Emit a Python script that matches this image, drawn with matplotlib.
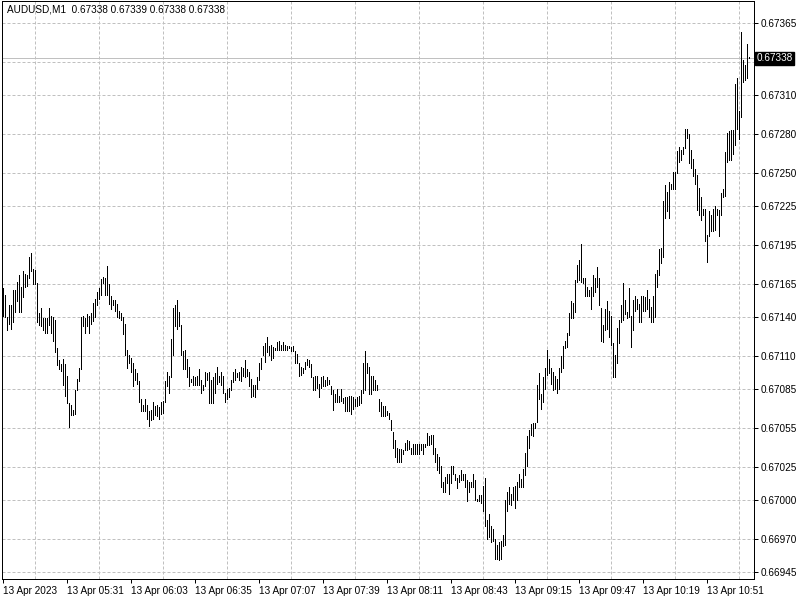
import numpy as np
import matplotlib
matplotlib.use("Agg")
import matplotlib.pyplot as plt
import matplotlib.transforms as mtransforms

plt.rcParams['font.family'] = ['Liberation Sans', 'DejaVu Sans']

# AUDUSD M1 bars, high / low in points (1 point = 0.00001)
high_pts = [
    67162, 67157, 67140, 67149, 67149, 67161, 67161, 67167, 67172, 67163, 67175, 67173, 67172, 67186, 67189,
    67177, 67176, 67166, 67143, 67147, 67139, 67139, 67139, 67147, 67141, 67140, 67138, 67116, 67107, 67104,
    67108, 67104, 67095, 67074, 67073, 67069, 67084, 67093, 67101, 67140, 67141, 67139, 67142, 67141, 67143,
    67151, 67154, 67159, 67162, 67169, 67171, 67170, 67179, 67165, 67156, 67153, 67153, 67150, 67145, 67143,
    67140, 67135, 67115, 67111, 67109, 67105, 67100, 67097, 67091, 67077, 67073, 67077, 67073, 67068,
    67069, 67075, 67072, 67073, 67071, 67075, 67076, 67091, 67098, 67095, 67123, 67147, 67149, 67153, 67144,
    67134, 67114, 67115, 67108, 67102, 67093, 67095, 67094, 67095, 67100, 67092, 67088, 67098, 67097, 67098,
    67092, 67094, 67097, 67102, 67095, 67098, 67095, 67082, 67085, 67086, 67092, 67098, 67100, 67097, 67098,
    67102, 67101, 67107, 67100, 67098, 67093, 67088, 67088, 67094, 67105, 67109, 67118, 67120, 67125, 67118,
    67119, 67117, 67116, 67121, 67122, 67119, 67121, 67119, 67118, 67118, 67117, 67118, 67114, 67112, 67105,
    67102, 67101, 67106, 67108, 67107, 67104, 67094, 67095, 67095, 67089, 67094, 67095, 67092, 67094, 67092,
    67087, 67084, 67081, 67085, 67080, 67085, 67078, 67079, 67079, 67080, 67080, 67079, 67077, 67079, 67080,
    67084, 67105, 67114, 67105, 67102, 67095, 67095, 67092, 67088, 67077, 67075, 67072, 67072, 67068, 67067,
    67061, 67052, 67046, 67040, 67039, 67039, 67038, 67044, 67046, 67045, 67040, 67043, 67043, 67043, 67043,
    67043, 67043, 67043, 67051, 67049, 67050, 67050, 67040, 67035, 67033, 67026, 67014, 67018, 67020, 67020,
    67026, 67026, 67020, 67017, 67019, 67023, 67020, 67020, 67015, 67014, 67014, 67020, 67015, 67001, 67004,
    67004, 67011, 67017, 66985, 66989, 66980, 66978, 66970, 66966, 66968, 66969, 66973, 67000, 67006, 67010,
    67005, 67010, 67011, 67014, 67020, 67016, 67024, 67036, 67049, 67054, 67058, 67059, 67059, 67088, 67097,
    67081, 67094, 67101, 67115, 67108, 67101, 67098, 67095, 67093, 67101, 67110, 67118, 67122, 67128, 67143,
    67152, 67151, 67168, 67180, 67184, 67196, 67170, 67170, 67163, 67161, 67163, 67172, 67170, 67178, 67170,
    67147, 67134, 67146, 67152, 67145, 67141, 67120, 67111, 67132, 67138, 67149, 67166, 67153, 67144, 67162,
    67141, 67153, 67156, 67154, 67150, 67156, 67156, 67155, 67161, 67154, 67148, 67156, 67173, 67176, 67192,
    67193, 67229, 67241, 67236, 67243, 67242, 67251, 67251, 67267, 67270, 67268, 67270, 67284, 67284, 67280,
    67268, 67261, 67253, 67249, 67239, 67232, 67223, 67223, 67203, 67221, 67218, 67223, 67225, 67223, 67222,
    67235, 67238, 67266, 67281, 67282, 67283, 67283, 67318, 67323, 67298, 67358, 67337, 67333, 67349, 67339,
]
low_pts = [
    67141, 67140, 67130, 67135, 67131, 67136, 67144, 67152, 67144, 67144, 67155, 67163, 67164, 67170, 67175,
    67165, 67165, 67136, 67134, 67133, 67130, 67128, 67128, 67134, 67128, 67122, 67113, 67103, 67100, 67099,
    67088, 67080, 67074, 67056, 67065, 67065, 67066, 67084, 67091, 67100, 67133, 67128, 67133, 67128, 67135,
    67137, 67140, 67149, 67154, 67157, 67166, 67157, 67157, 67150, 67146, 67149, 67145, 67140, 67139, 67138,
    67127, 67111, 67101, 67105, 67098, 67087, 67092, 67089, 67075, 67068, 67068, 67068, 67062, 67057,
    67061, 67062, 67065, 67064, 67062, 67066, 67067, 67075, 67087, 67082, 67094, 67111, 67133, 67131, 67133,
    67111, 67100, 67100, 67094, 67087, 67090, 67088, 67088, 67088, 67088, 67082, 67084, 67087, 67092, 67074,
    67074, 67074, 67082, 67089, 67090, 67088, 67082, 67075, 67077, 67079, 67084, 67090, 67092, 67094, 67092,
    67091, 67095, 67094, 67095, 67087, 67079, 67080, 67079, 67085, 67092, 67100, 67111, 67106, 67113, 67111,
    67107, 67109, 67115, 67115, 67115, 67115, 67115, 67115, 67115, 67116, 67114, 67114, 67105, 67105, 67095,
    67096, 67097, 67100, 67103, 67102, 67094, 67084, 67084, 67086, 67079, 67086, 67087, 67087, 67088, 67089,
    67081, 67069, 67075, 67075, 67075, 67076, 67074, 67068, 67068, 67068, 67066, 67070, 67072, 67072, 67073,
    67074, 67082, 67084, 67097, 67081, 67081, 67084, 67084, 67084, 67068, 67064, 67064, 67064, 67065, 67062,
    67054, 67040, 67033, 67029, 67029, 67029, 67035, 67038, 67038, 67039, 67035, 67035, 67035, 67035, 67035,
    67038, 67035, 67041, 67042, 67042, 67043, 67035, 67029, 67023, 67021, 67010, 67006, 67006, 67013, 67005,
    67013, 67020, 67015, 67009, 67014, 67015, 67015, 67010, 66999, 67006, 67010, 67010, 67000, 66999, 66999,
    66998, 66992, 66980, 66970, 66972, 66968, 66969, 66955, 66955, 66954, 66955, 66965, 66966, 66992, 66997,
    66996, 67000, 66994, 67000, 67010, 67010, 67010, 67019, 67026, 67040, 67050, 67049, 67055, 67060, 67077,
    67070, 67075, 67085, 67096, 67097, 67089, 67084, 67085, 67082, 67085, 67098, 67101, 67116, 67117, 67126,
    67139, 67139, 67144, 67167, 67168, 67167, 67166, 67156, 67156, 67156, 67146, 67156, 67159, 67163, 67149,
    67122, 67121, 67130, 67131, 67125, 67119, 67094, 67094, 67105, 67120, 67136, 67138, 67142, 67139, 67140,
    67117, 67130, 67145, 67146, 67136, 67136, 67145, 67145, 67146, 67140, 67136, 67136, 67140, 67163, 67172,
    67181, 67186, 67216, 67221, 67216, 67238, 67238, 67238, 67250, 67259, 67260, 67265, 67269, 67277, 67258,
    67254, 67248, 67242, 67222, 67218, 67214, 67218, 67198, 67182, 67202, 67206, 67206, 67207, 67218, 67202,
    67218, 67232, 67233, 67259, 67260, 67260, 67265, 67272, 67284, 67276, 67293, 67320, 67321, 67323, 67338,
]

price_ticks = [0.67365, 0.67335, 0.67310, 0.67280, 0.67250, 0.67225, 0.67195, 0.67165,
               0.67140, 0.67110, 0.67085, 0.67055, 0.67025, 0.67000, 0.66970, 0.66945]
time_labels = ["13 Apr 2023", "13 Apr 05:31", "13 Apr 06:03", "13 Apr 06:35", "13 Apr 07:07",
               "13 Apr 07:39", "13 Apr 08:11", "13 Apr 08:43", "13 Apr 09:15", "13 Apr 09:47",
               "13 Apr 10:19", "13 Apr 10:51"]
bid = 0.67338
header = "AUDUSD,M1  0.67338 0.67339 0.67338 0.67338"

highs = np.array(high_pts) / 1e5
lows = np.array(low_pts) / 1e5
idx = np.arange(len(highs))

fig = plt.figure(figsize=(8, 6), dpi=100)
ax = fig.add_axes([2 / 800, 21 / 600, 752 / 800, 578 / 600])

grid_kw = dict(color='#c0c0c0', linewidth=0.72, linestyle=(0, (3, 2)))
ax.set_xticks(range(0, len(highs), 32))
ax.set_xticklabels(time_labels)
ax.set_xticks(range(16, len(highs), 16), minor=True)
ax.grid(True, which='minor', axis='x', **grid_kw)
ax.set_yticks(price_ticks)
# the 0.67335 label sits under the bid box, so it is left blank
ax.set_yticklabels(["" if abs(p - 0.67335) < 1e-7 else f"{p:.5f}" for p in price_ticks])
ax.grid(True, which='major', axis='y', **grid_kw)
ax.set_axisbelow(True)

ax.axhline(bid, color='#c0c0c0', linewidth=0.72, zorder=1)
ax.vlines(idx, lows, highs, colors='black', linewidth=0.7, antialiased=False, zorder=3)

ax.set_xlim(-0.5, 375.5)
ax.set_ylim(0.6693965, 0.673818)

ax.yaxis.tick_right()
ax.tick_params(axis='both', which='major', direction='out', length=3, width=0.72,
               colors='black', labelsize=7.2, pad=2)
ax.tick_params(axis='x', which='minor', length=0)
for lab in ax.get_xticklabels():
    lab.set_horizontalalignment('left')
for s in ax.spines.values():
    s.set_color('black')
    s.set_linewidth(0.72)

trans = mtransforms.blended_transform_factory(ax.transAxes, ax.transData)
ax.text(1.003, bid, f"{bid:.5f}", transform=trans, color='white', fontsize=7.2,
        va='center', ha='left', zorder=10,
        bbox=dict(boxstyle='square,pad=0.15', facecolor='black', edgecolor='black'))

fig.text(7 / 800, 1 - 10 / 600, header, fontsize=7.2, va='center', ha='left')

fig.savefig("out.png", dpi=100)
